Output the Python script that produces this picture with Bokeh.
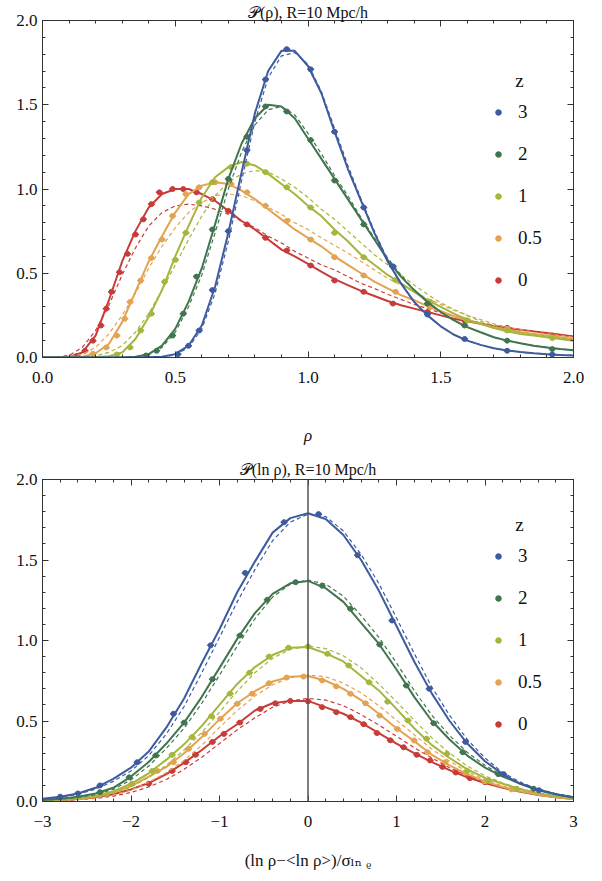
from bokeh.models import (Range1d, LinearAxis, FixedTicker, CustomJSTickFormatter,
                          Legend, LegendItem, Label, Span)
from bokeh.plotting import figure
from bokeh.layouts import column
from bokeh.embed import file_html
from bokeh.resources import INLINE
import numpy as np

FONT = "'Liberation Serif', 'DejaVu Serif', serif"
AX = "#333333"

Z_LABELS = ["3", "2", "1", "0.5", "0"]
COLORS = ["#3d5b9e", "#41754f", "#a6b53c", "#e3a350", "#c73c38"]

# ---------------- top panel: P(rho) ----------------
TOP_TITLE = "\U0001D4AB(\u03C1), R=10 Mpc/h"
TOP_XLABEL = "\u03C1"
TOP_X_TICKS = [0.0, 0.5, 1.0, 1.5, 2.0]
TOP_X_LABELS = ["0.0", "0.5", "1.0", "1.5", "2.0"]
Y_TICKS = [0.0, 0.5, 1.0, 1.5, 2.0]
Y_LABELS = ["0.0", "0.5", "1.0", "1.5", "2.0"]

RHO = [0.00, 0.05, 0.10, 0.15, 0.20, 0.25, 0.30, 0.35, 0.40, 0.45,
       0.50, 0.55, 0.60, 0.65, 0.70, 0.75, 0.80, 0.85, 0.90, 0.95,
       1.00, 1.05, 1.10, 1.15, 1.20, 1.25, 1.30, 1.35, 1.40, 1.45,
       1.50, 1.55, 1.60, 1.65, 1.70, 1.75, 1.80, 1.85, 1.90, 1.95, 2.00]

TOP_SOLID_Z3 = [0, 0, 0, 0, 0, 0, 0, 0, 0.001, 0.005,
                0.02, 0.07, 0.19, 0.42, 0.74, 1.10, 1.45, 1.70, 1.82, 1.82,
                1.73, 1.57, 1.34, 1.12, 0.93, 0.74, 0.57, 0.44, 0.33, 0.25,
                0.185, 0.135, 0.10, 0.075, 0.055, 0.042, 0.032, 0.025, 0.019, 0.015, 0.012]
TOP_DASH_Z3 = [0, 0, 0, 0, 0, 0, 0, 0, 0, 0.003,
               0.015, 0.06, 0.17, 0.38, 0.69, 1.05, 1.40, 1.66, 1.79, 1.81,
               1.74, 1.58, 1.36, 1.14, 0.94, 0.75, 0.58, 0.44, 0.33, 0.25,
               0.185, 0.135, 0.10, 0.075, 0.055, 0.042, 0.032, 0.025, 0.019, 0.015, 0.012]
TOP_SOLID_Z2 = [0, 0, 0, 0, 0, 0, 0, 0.005, 0.02, 0.07,
                0.17, 0.33, 0.53, 0.79, 1.06, 1.27, 1.42, 1.50, 1.49, 1.42,
                1.30, 1.18, 1.06, 0.94, 0.82, 0.70, 0.58, 0.48, 0.40, 0.33,
                0.27, 0.22, 0.18, 0.15, 0.12, 0.10, 0.085, 0.07, 0.06, 0.05, 0.043]
TOP_DASH_Z2 = [0, 0, 0, 0, 0, 0, 0, 0.004, 0.016, 0.06,
               0.15, 0.30, 0.49, 0.74, 1.00, 1.22, 1.38, 1.47, 1.49, 1.44,
               1.33, 1.21, 1.08, 0.96, 0.83, 0.71, 0.59, 0.49, 0.40, 0.33,
               0.27, 0.22, 0.18, 0.15, 0.12, 0.10, 0.085, 0.07, 0.06, 0.05, 0.043]
TOP_SOLID_Z1 = [0, 0, 0, 0, 0.002, 0.008, 0.03, 0.11, 0.24, 0.40,
                0.60, 0.78, 0.95, 1.07, 1.13, 1.16, 1.14, 1.09, 1.03, 0.97,
                0.90, 0.84, 0.76, 0.69, 0.61, 0.55, 0.49, 0.44, 0.39, 0.34,
                0.30, 0.26, 0.225, 0.20, 0.175, 0.155, 0.14, 0.13, 0.12, 0.11, 0.10]
TOP_DASH_Z1 = [0, 0, 0, 0.003, 0.01, 0.03, 0.07, 0.15, 0.26, 0.40,
               0.55, 0.70, 0.84, 0.96, 1.04, 1.09, 1.11, 1.10, 1.06, 1.01,
               0.95, 0.88, 0.82, 0.75, 0.68, 0.61, 0.55, 0.49, 0.43, 0.375,
               0.325, 0.285, 0.25, 0.215, 0.19, 0.165, 0.15, 0.135, 0.125, 0.115, 0.105]
TOP_SOLID_Z05 = [0, 0, 0, 0.005, 0.025, 0.08, 0.21, 0.39, 0.57, 0.72,
                 0.86, 0.97, 1.02, 1.04, 1.03, 0.99, 0.94, 0.88, 0.82, 0.76,
                 0.71, 0.66, 0.60, 0.55, 0.50, 0.45, 0.41, 0.37, 0.34, 0.305,
                 0.275, 0.245, 0.22, 0.20, 0.18, 0.165, 0.15, 0.14, 0.13, 0.12, 0.11]
TOP_DASH_Z05 = [0, 0, 0.005, 0.02, 0.06, 0.14, 0.25, 0.38, 0.53, 0.66,
                0.77, 0.86, 0.92, 0.96, 0.97, 0.96, 0.93, 0.89, 0.85, 0.80,
                0.76, 0.71, 0.665, 0.62, 0.57, 0.52, 0.47, 0.43, 0.39, 0.35,
                0.315, 0.28, 0.25, 0.225, 0.20, 0.18, 0.165, 0.15, 0.14, 0.13, 0.12]
TOP_SOLID_Z0 = [0, 0, 0.003, 0.03, 0.13, 0.34, 0.57, 0.75, 0.89, 0.97,
                1.00, 1.00, 0.97, 0.93, 0.87, 0.81, 0.76, 0.70, 0.64, 0.60,
                0.555, 0.51, 0.465, 0.43, 0.395, 0.365, 0.335, 0.31, 0.29, 0.27,
                0.25, 0.23, 0.215, 0.20, 0.185, 0.175, 0.165, 0.155, 0.145, 0.135, 0.125]
TOP_DASH_Z0 = [0, 0.002, 0.012, 0.06, 0.16, 0.31, 0.49, 0.65, 0.78, 0.86,
               0.90, 0.91, 0.90, 0.88, 0.85, 0.81, 0.77, 0.72, 0.68, 0.63,
               0.59, 0.55, 0.52, 0.48, 0.44, 0.41, 0.375, 0.345, 0.315, 0.29,
               0.265, 0.245, 0.225, 0.205, 0.19, 0.175, 0.165, 0.155, 0.145, 0.135, 0.125]

TOP_PTS_X_Z3 = [0.51, 0.55, 0.59, 0.64, 0.70, 0.77, 0.84, 0.92, 1.01, 1.10, 1.21, 1.32, 1.45, 1.59, 1.75, 1.92]
TOP_PTS_Y_Z3 = [0.02, 0.07, 0.16, 0.40, 0.75, 1.23, 1.65, 1.83, 1.71, 1.34, 0.89, 0.54, 0.255, 0.11, 0.04, 0.018]
TOP_PTS_X_Z2 = [0.39, 0.43, 0.49, 0.53, 0.58, 0.64, 0.70, 0.77, 0.84, 0.92, 1.01, 1.10, 1.21, 1.32, 1.45, 1.59, 1.75, 1.92]
TOP_PTS_Y_Z2 = [0.012, 0.04, 0.13, 0.26, 0.48, 0.76, 1.06, 1.31, 1.49, 1.46, 1.29, 1.05, 0.79, 0.54, 0.32, 0.19, 0.10, 0.05]
TOP_PTS_X_Z1 = [0.28, 0.33, 0.37, 0.41, 0.46, 0.50, 0.54, 0.59, 0.64, 0.71, 0.77, 0.84, 0.92, 1.01, 1.10, 1.21, 1.33, 1.46, 1.60, 1.75, 1.92]
TOP_PTS_Y_Z1 = [0.018, 0.06, 0.16, 0.26, 0.45, 0.58, 0.74, 0.92, 1.04, 1.13, 1.15, 1.10, 1.01, 0.89, 0.74, 0.595, 0.46, 0.33, 0.22, 0.16, 0.115]
TOP_PTS_X_Z05 = [0.19, 0.24, 0.28, 0.31, 0.33, 0.37, 0.41, 0.45, 0.49, 0.54, 0.59, 0.65, 0.71, 0.77, 0.84, 0.92, 1.01, 1.10, 1.21, 1.33, 1.46, 1.60, 1.75, 1.92]
TOP_PTS_Y_Z05 = [0.022, 0.06, 0.13, 0.23, 0.33, 0.457, 0.59, 0.70, 0.84, 0.97, 1.01, 1.04, 1.03, 0.98, 0.90, 0.81, 0.70, 0.595, 0.487, 0.39, 0.30, 0.22, 0.17, 0.12]
TOP_PTS_X_Z0 = [0.13, 0.16, 0.19, 0.22, 0.24, 0.26, 0.29, 0.32, 0.35, 0.38, 0.41, 0.44, 0.49, 0.53, 0.58, 0.64, 0.70, 0.77, 0.84, 0.92, 1.01, 1.10, 1.21, 1.32, 1.45, 1.59, 1.75, 1.92]
TOP_PTS_Y_Z0 = [0.01, 0.04, 0.10, 0.19, 0.29, 0.39, 0.506, 0.615, 0.73, 0.82, 0.91, 0.98, 1.00, 1.00, 0.98, 0.94, 0.87, 0.79, 0.71, 0.635, 0.546, 0.457, 0.39, 0.32, 0.27, 0.22, 0.176, 0.13]

# ---------------- bottom panel: P(ln rho) ----------------
BOT_TITLE = "\U0001D4AB(ln \u03C1), R=10 Mpc/h"
BOT_XLABEL = "(ln \u03C1\u2212<ln \u03C1>)/\u03C3\u2097\u2099 \u1D68"
BOT_X_TICKS = [-3, -2, -1, 0, 1, 2, 3]
BOT_X_LABELS = ["\u22123", "\u22122", "\u22121", "0", "1", "2", "3"]

XN = [-3.0, -2.8, -2.6, -2.4, -2.2, -2.0, -1.8, -1.6, -1.4, -1.2,
      -1.0, -0.8, -0.6, -0.4, -0.2, 0.0, 0.2, 0.4, 0.6, 0.8,
      1.0, 1.2, 1.4, 1.6, 1.8, 2.0, 2.2, 2.4, 2.6, 2.8, 3.0]

BOT_SOLID_Z3 = [0.017, 0.03, 0.05, 0.085, 0.14, 0.21, 0.31, 0.46, 0.64, 0.86,
                1.07, 1.30, 1.49, 1.67, 1.76, 1.79, 1.755, 1.655, 1.50, 1.31,
                1.09, 0.87, 0.67, 0.50, 0.36, 0.25, 0.17, 0.11, 0.07, 0.045, 0.027]
BOT_DASH_Z3 = [0.015, 0.027, 0.045, 0.077, 0.125, 0.19, 0.285, 0.42, 0.59, 0.80,
               1.02, 1.24, 1.44, 1.62, 1.735, 1.785, 1.77, 1.68, 1.535, 1.355,
               1.14, 0.92, 0.71, 0.535, 0.385, 0.27, 0.18, 0.12, 0.075, 0.048, 0.028]
BOT_SOLID_Z2 = [0.01, 0.017, 0.03, 0.05, 0.085, 0.155, 0.245, 0.36, 0.49, 0.65,
                0.83, 1.01, 1.17, 1.29, 1.355, 1.37, 1.325, 1.24, 1.11, 0.98,
                0.82, 0.65, 0.50, 0.385, 0.285, 0.21, 0.155, 0.11, 0.075, 0.045, 0.025]
BOT_DASH_Z2 = [0.008, 0.014, 0.025, 0.043, 0.075, 0.135, 0.22, 0.33, 0.455, 0.61,
               0.785, 0.965, 1.135, 1.27, 1.35, 1.375, 1.35, 1.275, 1.155, 1.02,
               0.86, 0.69, 0.535, 0.41, 0.305, 0.225, 0.16, 0.115, 0.078, 0.048, 0.027]
BOT_SOLID_Z1 = [0.007, 0.012, 0.021, 0.036, 0.062, 0.11, 0.175, 0.26, 0.355, 0.47,
                0.60, 0.73, 0.835, 0.91, 0.955, 0.96, 0.92, 0.87, 0.78, 0.69,
                0.575, 0.455, 0.35, 0.27, 0.20, 0.147, 0.11, 0.077, 0.052, 0.032, 0.018]
BOT_DASH_Z1 = [0.005, 0.009, 0.016, 0.028, 0.05, 0.09, 0.15, 0.225, 0.32, 0.43,
               0.555, 0.685, 0.80, 0.89, 0.945, 0.965, 0.95, 0.905, 0.83, 0.73,
               0.62, 0.505, 0.395, 0.30, 0.22, 0.16, 0.115, 0.08, 0.053, 0.033, 0.019]
BOT_SOLID_Z05 = [0.006, 0.01, 0.018, 0.03, 0.055, 0.095, 0.155, 0.215, 0.30, 0.40,
                 0.51, 0.61, 0.685, 0.745, 0.775, 0.78, 0.75, 0.70, 0.63, 0.545,
                 0.455, 0.375, 0.29, 0.225, 0.17, 0.125, 0.09, 0.063, 0.042, 0.027, 0.016]
BOT_DASH_Z05 = [0.004, 0.007, 0.013, 0.023, 0.04, 0.072, 0.12, 0.18, 0.255, 0.35,
                0.46, 0.565, 0.655, 0.725, 0.77, 0.785, 0.775, 0.735, 0.675, 0.595,
                0.505, 0.415, 0.325, 0.25, 0.185, 0.135, 0.097, 0.067, 0.045, 0.028, 0.017]
BOT_SOLID_Z0 = [0.005, 0.009, 0.015, 0.027, 0.045, 0.075, 0.115, 0.17, 0.24, 0.32,
                0.405, 0.48, 0.565, 0.61, 0.625, 0.625, 0.585, 0.545, 0.49, 0.425,
                0.36, 0.30, 0.245, 0.195, 0.15, 0.115, 0.085, 0.06, 0.04, 0.026, 0.016]
BOT_DASH_Z0 = [0.003, 0.006, 0.011, 0.019, 0.033, 0.056, 0.09, 0.137, 0.20, 0.275,
               0.36, 0.445, 0.52, 0.585, 0.625, 0.64, 0.63, 0.595, 0.54, 0.475,
               0.405, 0.335, 0.27, 0.21, 0.16, 0.12, 0.088, 0.062, 0.042, 0.027, 0.016]

BOT_PTS_X_Z3 = [-2.8, -2.6, -2.35, -1.93, -1.52, -1.10, -0.71, -0.27, 0.12, 0.56, 0.95, 1.37, 1.78, 2.21, 2.61]
BOT_PTS_Y_Z3 = [0.03, 0.05, 0.10, 0.244, 0.545, 0.97, 1.42, 1.735, 1.785, 1.53, 1.124, 0.70, 0.37, 0.17, 0.07]
BOT_PTS_X_Z2 = [-2.35, -2.02, -1.72, -1.40, -1.08, -0.77, -0.46, -0.14, 0.16, 0.48, 0.81, 1.11, 1.42, 1.75, 2.15, 2.55]
BOT_PTS_Y_Z2 = [0.058, 0.15, 0.286, 0.49, 0.76, 1.031, 1.253, 1.362, 1.34, 1.197, 0.975, 0.72, 0.486, 0.306, 0.17, 0.079]
BOT_PTS_X_Z1 = [-1.99, -1.76, -1.535, -1.31, -1.09, -0.88, -0.66, -0.44, -0.22, 0.0, 0.22, 0.46, 0.69, 0.90, 1.13, 1.34, 1.57, 1.80, 2.04, 2.36]
BOT_PTS_Y_Z1 = [0.11, 0.19, 0.29, 0.40, 0.53, 0.67, 0.80, 0.90, 0.955, 0.963, 0.917, 0.845, 0.74, 0.62, 0.503, 0.39, 0.296, 0.19, 0.13, 0.079]
BOT_PTS_X_Z05 = [-1.70, -1.52, -1.35, -1.17, -0.99, -0.80, -0.63, -0.44, -0.24, -0.05, 0.16, 0.32, 0.48, 0.65, 0.81, 1.01, 1.20, 1.35, 1.55, 1.78, 2.0, 2.3]
BOT_PTS_Y_Z05 = [0.19, 0.244, 0.327, 0.42, 0.514, 0.607, 0.67, 0.735, 0.77, 0.776, 0.752, 0.715, 0.669, 0.61, 0.534, 0.45, 0.379, 0.306, 0.244, 0.18, 0.125, 0.075]
BOT_PTS_X_Z0 = [-1.80, -1.535, -1.38, -1.27, -1.08, -0.95, -0.77, -0.54, -0.37, -0.2, 0.0, 0.16, 0.32, 0.48, 0.63, 0.78, 0.93, 1.08, 1.23, 1.38, 1.52, 1.67, 1.83, 2.0]
BOT_PTS_Y_Z0 = [0.11, 0.19, 0.244, 0.29, 0.37, 0.42, 0.49, 0.575, 0.61, 0.625, 0.622, 0.586, 0.555, 0.524, 0.48, 0.425, 0.38, 0.337, 0.29, 0.255, 0.215, 0.18, 0.145, 0.12]

TOP_SERIES = [
    (TOP_SOLID_Z3, TOP_DASH_Z3, TOP_PTS_X_Z3, TOP_PTS_Y_Z3),
    (TOP_SOLID_Z2, TOP_DASH_Z2, TOP_PTS_X_Z2, TOP_PTS_Y_Z2),
    (TOP_SOLID_Z1, TOP_DASH_Z1, TOP_PTS_X_Z1, TOP_PTS_Y_Z1),
    (TOP_SOLID_Z05, TOP_DASH_Z05, TOP_PTS_X_Z05, TOP_PTS_Y_Z05),
    (TOP_SOLID_Z0, TOP_DASH_Z0, TOP_PTS_X_Z0, TOP_PTS_Y_Z0),
]
BOT_SERIES = [
    (BOT_SOLID_Z3, BOT_DASH_Z3, BOT_PTS_X_Z3, BOT_PTS_Y_Z3),
    (BOT_SOLID_Z2, BOT_DASH_Z2, BOT_PTS_X_Z2, BOT_PTS_Y_Z2),
    (BOT_SOLID_Z1, BOT_DASH_Z1, BOT_PTS_X_Z1, BOT_PTS_Y_Z1),
    (BOT_SOLID_Z05, BOT_DASH_Z05, BOT_PTS_X_Z05, BOT_PTS_Y_Z05),
    (BOT_SOLID_Z0, BOT_DASH_Z0, BOT_PTS_X_Z0, BOT_PTS_Y_Z0),
]

FMT_CODE = "const i = tv.indexOf(tick); return i < 0 ? '' : lb[i];"
FMT_EMPTY = "return '';"


def minor_list(a, b, step):
    return [float(v) for v in np.round(np.arange(a, b + 1e-9, step), 3)]


def style_axis(ax, ticker, fmt, labels_on):
    ax.ticker = ticker
    ax.formatter = fmt
    ax.axis_line_color = AX
    ax.axis_line_width = 1
    ax.major_tick_line_color = AX
    ax.minor_tick_line_color = AX
    ax.major_tick_in = 6
    ax.major_tick_out = 0
    ax.minor_tick_in = 3
    ax.minor_tick_out = 0
    ax.major_label_text_font = FONT
    ax.major_label_text_font_size = "17px"
    ax.major_label_text_color = "#111111"
    if not labels_on:
        ax.major_label_text_font_size = "1px"
        ax.major_label_standoff = 0


def build(xgrid, series, xr, xticks, xminor, xlabels, width, height, borders,
          title, title_standoff, xlabel, xlabel_style, xlabel_standoff, vline):
    p = figure(width=width, height=height, output_backend="svg", toolbar_location=None,
               x_range=Range1d(*xr), y_range=Range1d(0, 2.0),
               min_border_left=borders[0], min_border_right=borders[1],
               min_border_top=borders[2], min_border_bottom=borders[3],
               title=title)
    p.title.text_font = FONT
    p.title.text_font_size = "16px"
    p.title.text_font_style = "normal"
    p.title.text_color = "#111111"
    p.title.align = "center"
    p.title.standoff = title_standoff
    p.title.offset = 0
    p.xgrid.visible = False
    p.ygrid.visible = False
    p.outline_line_color = AX
    p.background_fill_color = "white"
    p.border_fill_color = "white"

    xt = FixedTicker(ticks=xticks, minor_ticks=xminor)
    yt = FixedTicker(ticks=Y_TICKS, minor_ticks=minor_list(0, 2.0, 0.1))
    xf = CustomJSTickFormatter(args=dict(tv=xticks, lb=xlabels), code=FMT_CODE)
    yf = CustomJSTickFormatter(args=dict(tv=Y_TICKS, lb=Y_LABELS), code=FMT_CODE)
    ef = CustomJSTickFormatter(code=FMT_EMPTY)

    style_axis(p.xaxis[0], xt, xf, True)
    style_axis(p.yaxis[0], yt, yf, True)
    p.xaxis[0].major_label_standoff = 14
    p.yaxis[0].major_label_standoff = 5
    p.xaxis[0].axis_label = xlabel
    p.xaxis[0].axis_label_text_font = FONT
    p.xaxis[0].axis_label_text_font_size = "17px"
    p.xaxis[0].axis_label_text_font_style = xlabel_style
    p.xaxis[0].axis_label_text_color = "#111111"
    p.xaxis[0].axis_label_standoff = xlabel_standoff
    top_ax = LinearAxis()
    right_ax = LinearAxis()
    style_axis(top_ax, xt, ef, False)
    style_axis(right_ax, yt, ef, False)
    p.add_layout(top_ax, "above")
    p.add_layout(right_ax, "right")

    if vline:
        p.add_layout(Span(location=0, dimension="height", line_color="#555555", line_width=1.5))

    pt_renderers = []
    for i in reversed(range(len(series))):
        solid, dash, px, py = series[i]
        c = COLORS[i]
        p.line(xgrid, dash, line_color=c, line_width=1.2, line_dash="4 3")
        p.line(xgrid, solid, line_color=c, line_width=2)
        p.scatter(px, py, marker="dash", size=7, line_color=c, line_width=1.5)
        r = p.scatter(px, py, marker="circle", size=5, fill_color=c, line_color=c)
        pt_renderers.append((i, r))
    pt_renderers.sort(key=lambda t: t[0])

    items = [LegendItem(label=Z_LABELS[i], renderers=[r]) for i, r in pt_renderers]
    legend = Legend(items=items, location=(449, 66), label_text_font=FONT,
                    label_text_font_size="19px", label_text_color="#111111",
                    glyph_width=14, glyph_height=22, label_height=22, spacing=20,
                    padding=0, margin=0, label_standoff=13,
                    border_line_color=None, background_fill_alpha=0)
    p.add_layout(legend)
    p.add_layout(Label(x=477, y=277, x_units="screen", y_units="screen", text="z",
                       text_font=FONT, text_font_size="19px", text_align="center",
                       text_baseline="middle", text_color="#111111"))
    return p


p1 = build(RHO, TOP_SERIES, (0, 2.0), TOP_X_TICKS, minor_list(0, 2.0, 0.1), TOP_X_LABELS,
           602, 455, (42, 29, 20, 98), TOP_TITLE, 0, TOP_XLABEL, "italic", 40, False)

p2 = build(XN, BOT_SERIES, (-3, 3), BOT_X_TICKS, minor_list(-3, 3, 0.2), BOT_X_LABELS,
           602, 426, (42, 29, 24, 80), BOT_TITLE, 3, BOT_XLABEL, "normal", 21, True)

layout = column(p1, p2, spacing=0)
open("out.html", "w").write(file_html(layout, INLINE))
